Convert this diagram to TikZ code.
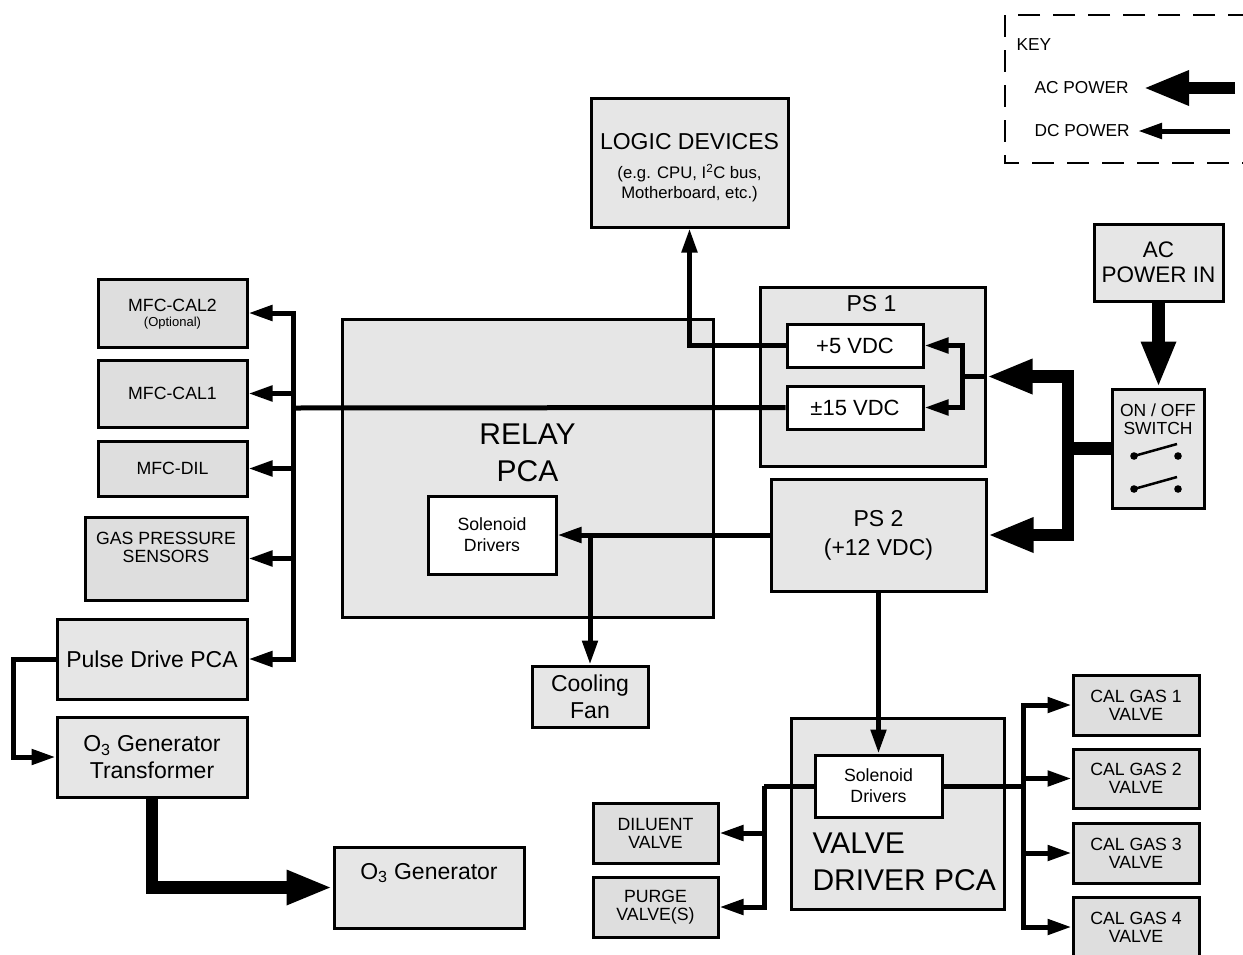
\documentclass[tikz,border=0pt]{standalone}
\usepackage{fontspec}
\setmainfont{Liberation Sans}
\usetikzlibrary{arrows.meta}
\definecolor{gA}{HTML}{E6E6E6}
\definecolor{gB}{HTML}{DEDEDE}
\tikzset{
  box/.style={draw, line width=3pt, fill=gA, inner sep=0pt, align=center},
  boxb/.style={box, fill=gB},
  wbox/.style={box, fill=white},
  sz/.style 2 args={minimum width=#1pt, minimum height=#2pt},
  fbig/.style={font=\fontsize{23}{27}\selectfont},
  fmed/.style={font=\fontsize{17.7}{18}\selectfont},
  fsol/.style={font=\fontsize{17.7}{21}\selectfont},
  flab/.style={font=\fontsize{30}{37}\selectfont},
  dc/.style={line width=5pt},
  dcarrow/.style={dc, -{Triangle[length=24pt,width=15pt]}},
  dcboth/.style={dc, {Triangle[length=24pt,width=15pt]}-{Triangle[length=24pt,width=15pt]}},
  ac/.style={line width=12.5pt},
  acarrow/.style={ac, -{Triangle[length=46pt,width=32pt]}},
  acboth/.style={ac, {Triangle[length=46pt,width=32pt]}-{Triangle[length=46pt,width=32pt]}},
  keydash/.style={line width=1.8pt, dash pattern=on 22pt off 13pt},
  swline/.style={line width=2.5pt},
  keyfont/.style={font=\fontsize{17.3}{20}\selectfont},
}
\begin{document}
\begin{tikzpicture}[x=1pt, y=-1pt]
\fill[white] (0,0) rectangle (1243,954);
\useasboundingbox (0,0) rectangle (1243,954);

% ---------- key ----------
\draw[keydash] (1250,15) -- (1005,15) -- (1005,163) -- (1250,163);
\node[anchor=west, keyfont] (keyt) at (1013,45) {KEY};
\node[anchor=west, keyfont] (keyac) at (1031,88) {AC POWER};
\node[anchor=west, keyfont] (keydc) at (1031,131) {DC POWER};
\coordinate (kac1) at (1235,88);
\coordinate (kac2) at (1143,88);
\coordinate (kdc1) at (1230,131);
\coordinate (kdc2) at (1138,131);
\draw[acarrow] (kac1) -- (kac2);
\draw[dcarrow] (kdc1) -- (kdc2);

% ---------- boxes ----------
\node[box, sz={197}{129}] (logic) at (689.5,162.5) {};
\node[fbig] (logict1) at (689.5,142) {LOGIC DEVICES};
\node[font=\fontsize{16.7}{21}\selectfont] (logict2) at (689.5,173) {(e.g. CPU, I\textsuperscript{2}C bus,};
\node[font=\fontsize{16.7}{21}\selectfont] (logict3) at (689.5,194) {Motherboard, etc.)};

\node[box, sz={371}{298}] (relay) at (527.5,468) {};
\node[flab, align=center] (relayt) at (527.5,453) {RELAY\\PCA};
\node[wbox, fsol, sz={128}{78}] (sol1) at (492,535) {Solenoid\\Drivers};
\node[box, fbig, sz={116}{61}] (fan) at (590,696.5) {Cooling\\Fan};

\node[box, sz={225}{179}] (ps1) at (872.5,376.5) {};
\node[fbig] (ps1t) at (871.5,304) {PS 1};
\node[wbox, font=\fontsize{22}{26}\selectfont, sz={136}{43}] (p5) at (855,345.5) {+5 VDC};
\node[wbox, font=\fontsize{22}{26}\selectfont, sz={136}{43}] (pm15) at (855,407.5) {±15 VDC};

\node[box, fbig, sz={215}{112}] (ps2) at (878.5,535) {PS 2\\[2pt](+12 VDC)};

\node[box, font=\fontsize{22.5}{25}\selectfont, sz={129}{77}] (acin) at (1158.5,262.5) {AC\\POWER IN};
\node[box, sz={92}{119}] (sw) at (1158,448.5) {};
\node[font=\fontsize{17.5}{18}\selectfont, align=center] (swt) at (1158,419) {ON / OFF\\SWITCH};

\node[boxb, sz={149}{68}] (mfc2) at (172.5,313) {};
\node[fmed] (mfc2t) at (172.5,305) {MFC-CAL2};
\node[font=\fontsize{13}{15}\selectfont] (mfc2o) at (172.5,323) {(Optional)};
\node[boxb, fmed, sz={149}{67}] (mfc1) at (172.5,393.5) {MFC-CAL1};
\node[boxb, fmed, sz={149}{55}] (mfcdil) at (172.5,468.5) {MFC-DIL};
\node[boxb, sz={162}{83}] (gps) at (166,558.5) {};
\node[fmed, align=center] (gpst) at (166,547) {GAS PRESSURE\\SENSORS};
\node[box, fbig, sz={190}{80}] (pulse) at (152,659) {Pulse Drive PCA};
\node[box, fbig, sz={190}{80}] (trans) at (152,757) {O\textsubscript{3} Generator\\Transformer};
\node[box, sz={190}{81}] (o3gen) at (429,887.5) {};
\node[fbig] (o3gent) at (429,873) {O\textsubscript{3} Generator};

\node[box, sz={213}{191}] (vdrv) at (897.5,813.5) {};
\node[flab, align=left, anchor=west] (vdrvt) at (809,861.5) {VALVE\\DRIVER PCA};
\node[wbox, fsol, sz={127}{62}] (sol2) at (878.5,786) {Solenoid\\Drivers};
\node[boxb, fmed, sz={125}{60}] (dil) at (655.5,833) {DILUENT\\VALVE};
\node[boxb, fmed, sz={125}{60}] (purge) at (655.5,907) {PURGE\\VALVE(S)};
\node[boxb, fmed, sz={126}{60}] (cal1) at (1136,705) {CAL GAS 1\\VALVE};
\node[boxb, fmed, sz={126}{59}] (cal2) at (1136,778.5) {CAL GAS 2\\VALVE};
\node[boxb, fmed, sz={126}{60}] (cal3) at (1136,853) {CAL GAS 3\\VALVE};
\node[boxb, fmed, sz={126}{60}] (cal4) at (1136,927) {CAL GAS 4\\VALVE};

% switch symbol
\foreach \yy/\nm in {456/a,489/b}{
  \coordinate (swl\nm) at (1134,\yy);
  \coordinate (swr\nm) at (1178,\yy);
  \coordinate (swe\nm) at (1177,\yy-12);
  \fill (swl\nm) circle (3.8);
  \fill (swr\nm) circle (3.8);
  \draw[swline] (swl\nm) -- (swe\nm);
}

% ---------- bus coordinates ----------
\coordinate (lbus) at (293,408);
\coordinate (inbus) at (962,377);
\coordinate (acbus) at (1068,450);
\coordinate (vlbus) at (764,786);
\coordinate (vrbus) at (1023,786);
\coordinate (pl) at (13,659);

% ---------- connectors ----------
\draw[dc] (pm15.west) -- (lbus);
\draw[dcboth] (mfc2.east) -- (mfc2.east -| lbus) -- (pulse.east -| lbus) -- (pulse.east);
\draw[dcarrow] (mfc1.east -| lbus) -- (mfc1.east);
\draw[dcarrow] (mfcdil.east -| lbus) -- (mfcdil.east);
\draw[dcarrow] (gps.east -| lbus) -- (gps.east);

\draw[dcarrow] (p5.west) -| (logic.south);
\draw[dcboth] (p5.east) -- (p5.east -| inbus) -- (pm15.east -| inbus) -- (pm15.east);
\draw[dc] (ps1.east) -- (ps1.east -| inbus);

\draw[acboth] (ps1.east) -- (ps1.east -| acbus) -- (ps2.east -| acbus) -- (ps2.east);
\draw[ac] (sw.west) -- (sw.west -| acbus);
\draw[acarrow] (acin.south) -- (acin.south |- sw.north);

\draw[dcarrow] (ps2.west) -- (sol1.east);
\draw[dcarrow] (fan.north |- ps2.west) -- (fan.north);
\draw[dcarrow] (ps2.south) -- (sol2.north);

\draw[dc] (sol2.west) -- (vlbus);
\draw[dcarrow] (vlbus) |- (purge.east);
\draw[dcarrow] (dil.east -| vlbus) -- (dil.east);

\draw[dc] (sol2.east) -- (vrbus);
\draw[dcboth] (cal1.west) -- (cal1.west -| vrbus) -- (cal4.west -| vrbus) -- (cal4.west);
\draw[dcarrow] (cal2.west -| vrbus) -- (cal2.west);
\draw[dcarrow] (cal3.west -| vrbus) -- (cal3.west);

\draw[dcarrow] (pulse.west) -- (pl) |- (trans.west);
\draw[acarrow] (trans.south) |- (o3gen.west);
\end{tikzpicture}
\end{document}
